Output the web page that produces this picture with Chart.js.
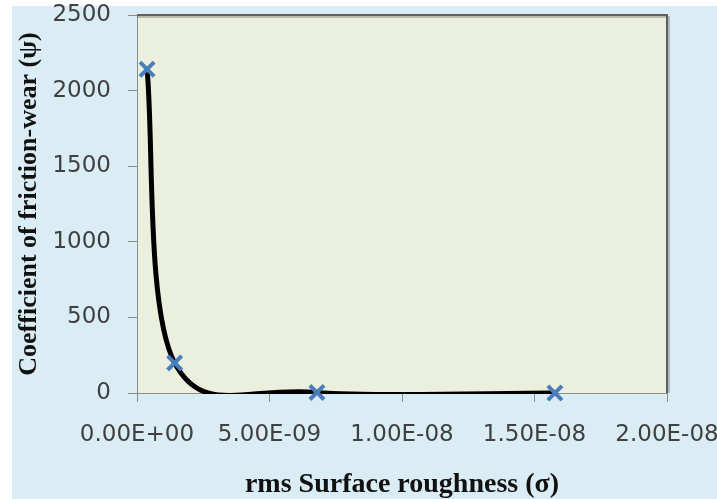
<!DOCTYPE html>
<html>
<head>
<meta charset="utf-8">
<script src="https://cdn.jsdelivr.net/npm/chart.js@4"></script>
<style>
  html, body { margin: 0; padding: 0; background: #ffffff; }
  #wrap { position: absolute; left: 0; top: 0; width: 717px; height: 499px; }
</style>
</head>
<body>
<div id="wrap"><canvas id="frictionChart"></canvas></div>
<script>
// rms surface roughness (sigma) vs coefficient of friction-wear (psi)
const roughness = [3.8e-10, 1.42e-9, 6.79e-9, 1.577e-8];
const frictionWear = [2141, 199, 4, 0];
const xTicks = [0, 5e-9, 1e-8, 1.5e-8, 2e-8];
const yTicks = [0, 500, 1000, 1500, 2000, 2500];

// Excel style scientific labels, e.g. 5.00E-09
function sciLabel(v) {
    if (Math.abs(v) < 1e-20) return '0.00E+00';
    const parts = v.toExponential(2).split('e');
    const sign = parts[1][0] === '-' ? '-' : '+';
    let exp = parts[1].replace('+', '').replace('-', '');
    if (exp.length < 2) exp = '0' + exp;
    return parts[0] + 'E' + sign + exp;
}

// Background panel + plot area fill, and the dark frame on top/right
const panelPlugin = {
    id: 'panel',
    beforeDraw(chart) {
        const c = chart.ctx;
        const a = chart.chartArea;
        c.save();
        c.fillStyle = '#ffffff';
        c.fillRect(0, 0, chart.width, chart.height);
        c.fillStyle = '#dbedf4';
        c.fillRect(12, 6, chart.width - 12, chart.height - 6);
        c.fillStyle = '#ebefdd';
        c.fillRect(a.left, a.top, a.right - a.left, a.bottom - a.top);
        c.restore();
    },
    beforeDatasetsDraw(chart) {
        const c = chart.ctx;
        const a = chart.chartArea;
        c.save();
        c.strokeStyle = 'rgba(90, 90, 90, 0.35)';
        c.lineWidth = 2;
        c.beginPath();
        c.moveTo(a.left, a.top + 2);
        c.lineTo(a.right + 2, a.top + 2);
        c.lineTo(a.right + 2, a.bottom);
        c.stroke();
        c.strokeStyle = '#5f5f5f';
        c.lineWidth = 2;
        c.beginPath();
        c.moveTo(a.left, a.top);
        c.lineTo(a.right, a.top);
        c.lineTo(a.right, a.bottom);
        c.stroke();
        c.restore();
    }
};

// keep the plot box exactly where the padding says
function noAutoPadding(axis) {
    axis.paddingLeft = 0;
    axis.paddingRight = 0;
    axis.paddingTop = 0;
    axis.paddingBottom = 0;
}

const points = roughness.map((x, i) => ({ x: x, y: frictionWear[i] }));

// Excel smooths each span with its own arm length, chart.js uses one tension per line.
// So the curve is the same line drawn a few times, each copy only showing some spans.
function curvePart(tension, firstSeg, lastSeg) {
    return {
        data: points,
        borderColor: '#000000',
        borderWidth: 5,
        tension: tension,
        capBezierPoints: false,
        pointRadius: 0,
        pointHoverRadius: 0,
        fill: false,
        clip: { left: 5, top: 5, right: 5, bottom: 1 },
        segment: {
            borderColor: c => (c.p0DataIndex >= firstSeg && c.p0DataIndex <= lastSeg) ? '#000000' : 'rgba(0,0,0,0)'
        },
        order: 1
    };
}

const ctx = document.getElementById('frictionChart').getContext('2d');

const frictionChart = new Chart(ctx, {
    type: 'line',
    data: {
        datasets: [
            {
                // markers on top
                data: points,
                showLine: false,
                pointStyle: 'crossRot',
                pointRadius: 10,
                pointHoverRadius: 10,
                pointBorderWidth: 4,
                pointBorderColor: '#4a7ebb',
                pointBackgroundColor: '#4a7ebb',
                clip: false,
                order: 0
            },
            curvePart(0.25, 0, 0),
            curvePart(0.5, 1, 1),
            curvePart(0.25, 2, 2)
        ]
    },
    options: {
        responsive: true,
        maintainAspectRatio: false,
        animation: false,
        layout: {
            padding: { top: 15, right: 50, bottom: 0, left: 0 }
        },
        plugins: {
            legend: { display: false },
            tooltip: { enabled: false }
        },
        scales: {
            x: {
                type: 'linear',
                min: xTicks[0],
                max: xTicks[xTicks.length - 1],
                afterBuildTicks: axis => { axis.ticks = xTicks.map(v => ({ value: v })); },
                afterFit: axis => { axis.height = 106; noAutoPadding(axis); },
                grid: {
                    drawOnChartArea: false,
                    drawTicks: true,
                    tickLength: 9,
                    color: '#8c8c8c'
                },
                border: { color: '#8c8c8c', width: 1 },
                ticks: {
                    color: '#404040',
                    font: { family: 'DejaVu Sans', size: 23 },
                    padding: 19,
                    maxRotation: 0,
                    callback: v => sciLabel(v)
                },
                title: {
                    display: true,
                    text: 'rms Surface roughness (σ)',
                    color: '#111111',
                    font: { family: 'Liberation Serif', size: 28, weight: 'bold', lineHeight: 1.05 },
                    padding: { top: 0, bottom: 0 }
                }
            },
            y: {
                min: yTicks[0],
                max: yTicks[yTicks.length - 1],
                afterBuildTicks: axis => { axis.ticks = yTicks.map(v => ({ value: v })); },
                afterFit: axis => { axis.width = 137; noAutoPadding(axis); },
                grid: {
                    drawOnChartArea: false,
                    drawTicks: true,
                    tickLength: 9,
                    color: '#8c8c8c'
                },
                border: { color: '#8c8c8c', width: 1 },
                ticks: {
                    color: '#404040',
                    font: { family: 'DejaVu Sans', size: 23 },
                    padding: 17,
                    callback: v => String(v)
                },
                title: {
                    display: true,
                    text: 'Coefficient of friction-wear (ψ)',
                    color: '#111111',
                    font: { family: 'Liberation Serif', size: 26, weight: 'bold' },
                    padding: { top: 14, bottom: 0 }
                }
            }
        }
    },
    plugins: [panelPlugin]
});
</script>
</body>
</html>
